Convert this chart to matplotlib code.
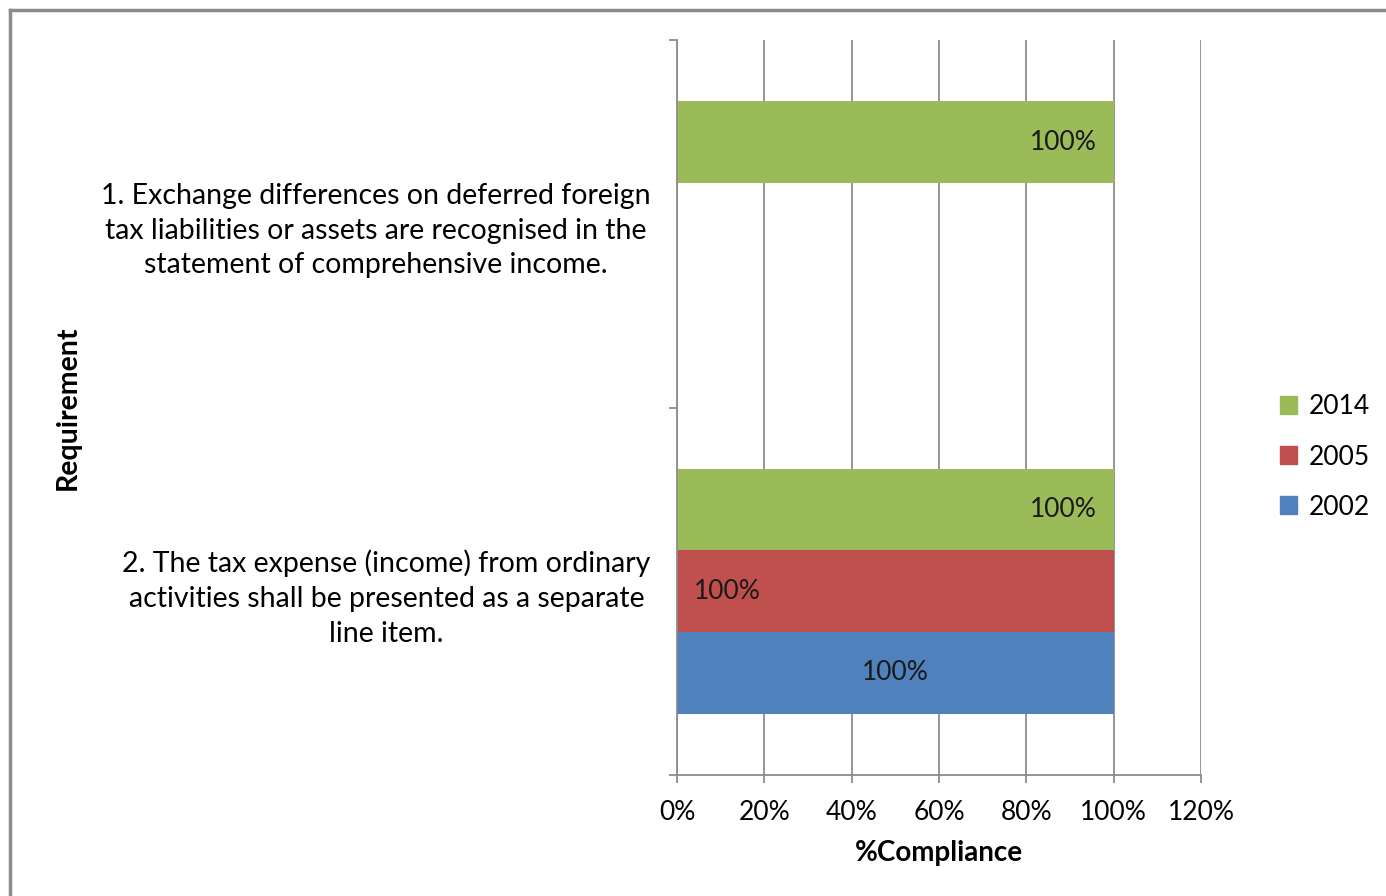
import numpy as np
import matplotlib.pyplot as plt
from matplotlib.lines import Line2D
from matplotlib.ticker import PercentFormatter

plt.rcParams['font.family'] = ['Lato', 'DejaVu Sans']

# категории (сверху вниз)
categories = [
    "1. Exchange differences on deferred foreign\ntax liabilities or assets are recognised in the\nstatement of comprehensive income.",
    "2. The tax expense (income) from ordinary\nactivities shall be presented as a separate\nline item.",
]
years = ["2014", "2005", "2002"]
values_2014 = [1.0, 1.0]
values_2005 = [np.nan, 1.0]
values_2002 = [np.nan, 1.0]
colors = ["#9BBB59", "#C0504D", "#4F81BD"]

series = [values_2014, values_2005, values_2002]
n = len(categories)
y = np.arange(n)[::-1]  # первая категория сверху
h = 0.222
offsets = [h, 0.0, -h]
label_pos = ["end", "base", "center"]

fig = plt.figure(figsize=(13.86, 8.96), dpi=100)
ax = fig.add_axes([677 / 1386, 1 - 775 / 896, (1201 - 677) / 1386, (775 - 40) / 896])

for vals, off, col, pos in zip(series, offsets, colors, label_pos):
    ax.barh(y + off, vals, height=h, color=col, zorder=2)
    for yy, v in zip(y, vals):
        if np.isnan(v):
            continue
        txt = f"{v:.0%}"
        if pos == "end":
            ax.text(v - 0.039, yy + off, txt, ha="right", va="center", fontsize=19, color="#1a1a1a", zorder=3)
        elif pos == "base":
            ax.text(0.039, yy + off, txt, ha="left", va="center", fontsize=19, color="#1a1a1a", zorder=3)
        else:
            ax.text(v / 2, yy + off, txt, ha="center", va="center", fontsize=19, color="#1a1a1a", zorder=3)

ax.set_xlim(0, 1.2)
ax.set_ylim(-0.5, n - 0.5)
ax.set_xticks(np.arange(0, 1.21, 0.2))
ax.xaxis.set_major_formatter(PercentFormatter(1.0, decimals=0))
ax.grid(axis="x", color="#8c8c8c", linewidth=1.3, zorder=0)
ax.set_axisbelow(True)

ax.set_yticks(y)
ax.set_yticklabels(categories, fontsize=20.5, linespacing=1.42)
for lbl in ax.get_yticklabels():
    lbl.set_multialignment("center")
ax.set_yticks(np.arange(-0.5, n, 1.0), minor=True)
ax.tick_params(axis="y", which="major", length=0, pad=19)
ax.tick_params(axis="y", which="minor", length=6, color="#8c8c8c", width=1.3)
ax.tick_params(axis="x", length=6, color="#8c8c8c", width=1.3, labelsize=19, pad=12)

for s in ["top", "right"]:
    ax.spines[s].set_visible(False)
for s in ["left", "bottom"]:
    ax.spines[s].set_color("#8c8c8c")
    ax.spines[s].set_linewidth(1.3)

ax.set_xlabel("%Compliance", fontsize=20, fontweight="bold", labelpad=11)
fig.text(68 / 1386, 1 - 408 / 896, "Requirement", rotation=90, fontsize=20.5,
         fontweight="bold", ha="center", va="center")

handles = [plt.Rectangle((0, 0), 1, 1, color=c) for c in colors]
fig.legend(handles, years, loc="center left", bbox_to_anchor=(1256 / 1386, 1 - 457 / 896),
           frameon=False, fontsize=19, handlelength=0.65, handleheight=0.65,
           handletextpad=0.45, labelspacing=0.95)

# рамка вокруг графика
fig.add_artist(Line2D([10 / 1386, 1], [1 - 10 / 896] * 2, color="#8c8c8c", linewidth=2.5))
fig.add_artist(Line2D([10 / 1386] * 2, [0, 1 - 10 / 896], color="#8c8c8c", linewidth=2.5))

fig.savefig("out.png", dpi=100)
